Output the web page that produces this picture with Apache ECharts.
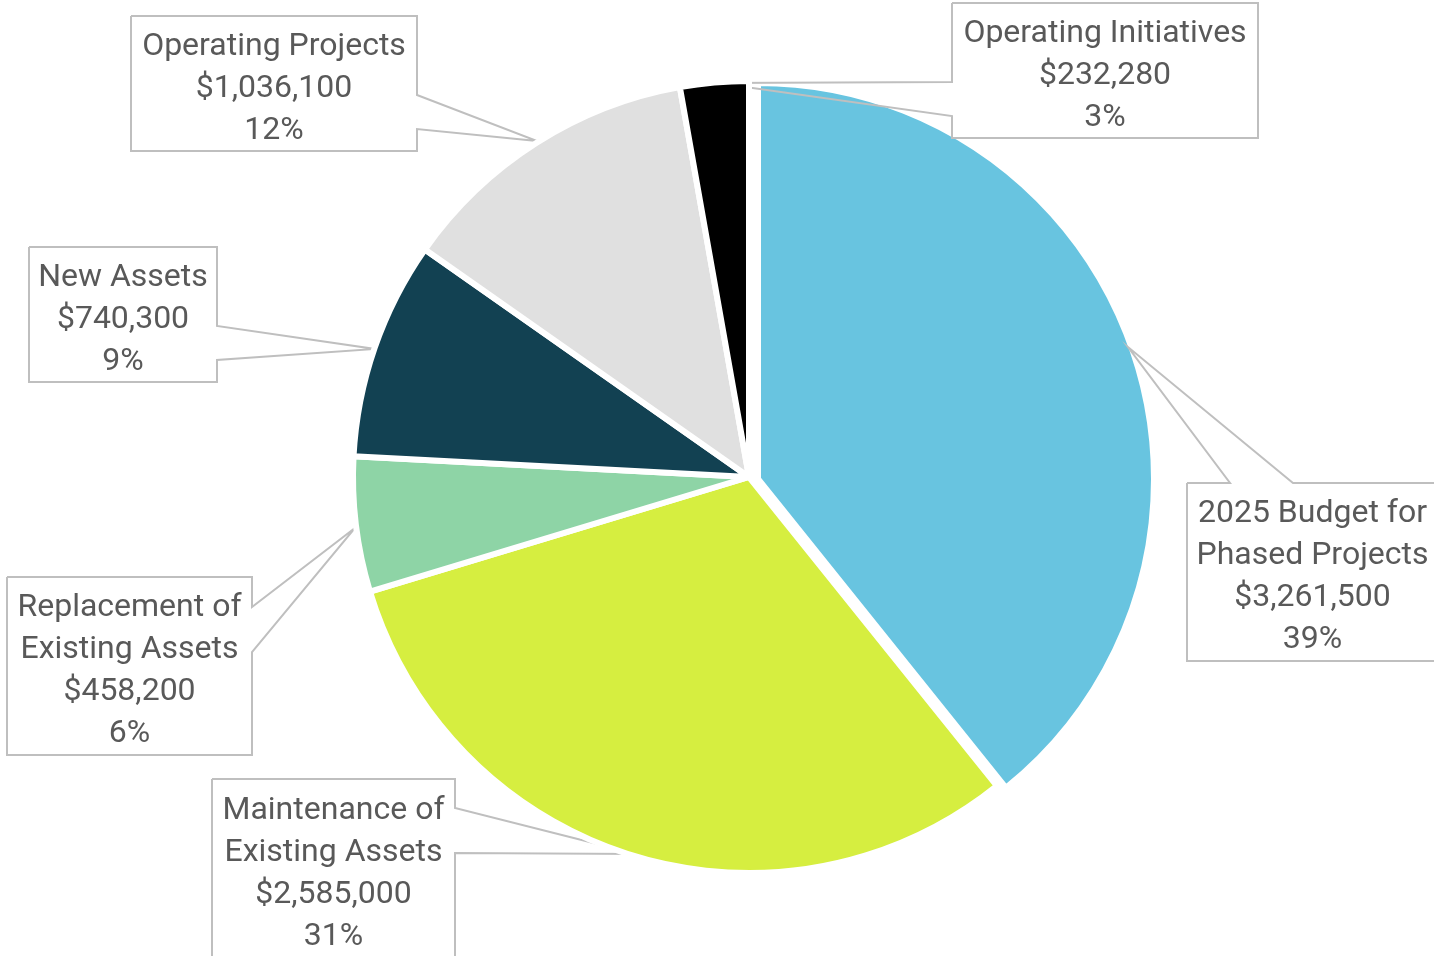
<!DOCTYPE html>
<html>
<head>
<meta charset="utf-8">
<script src="https://cdn.jsdelivr.net/npm/echarts@6/dist/echarts.min.js"></script>
<style>
  html, body { margin: 0; padding: 0; background: #fff; }
  #chart { width: 1434px; height: 956px; }
</style>
</head>
<body>
<div id="chart"></div>
<script>
// data, clockwise from 12 o'clock
var categories = ['2025 Budget for\nPhased Projects', 'Maintenance of\nExisting Assets', 'Replacement of\nExisting Assets', 'New Assets', 'Operating Projects', 'Operating Initiatives'];
var amounts = [3261500, 2585000, 458200, 740300, 1036100, 232280];
var colors = ['#68C4E0', '#D6EE40', '#8ED4A6', '#124152', '#E0E0E0', '#000000'];
var explodedIndex = 0;

// callout boxes: [left, top, right, bottom], which side the pointer leaves from,
// the two points on that side, and the tip on the pie
var callouts = [
  {box: [1187, 483, 1440, 661], side: 'top', a: 1230, b: 1293, tip: [1128, 347]},
  {box: [212, 779, 455, 959], side: 'right', a: 808, b: 853, tip: [637, 854]},
  {box: [7, 577, 252, 755], side: 'right', a: 607, b: 652, tip: [355, 528]},
  {box: [29, 247, 217, 382], side: 'right', a: 326, b: 360, tip: [375, 349]},
  {box: [131, 16, 417, 151], side: 'right', a: 95, b: 129, tip: [537, 141]},
  {box: [952, 3, 1258, 138], side: 'left', a: 82, b: 116, tip: [717, 83]}
];

function outline(c) {
  var x0 = c.box[0], y0 = c.box[1], x1 = c.box[2], y1 = c.box[3];
  if (c.side == 'top') {
    return [[x0, y0], [c.a, y0], c.tip, [c.b, y0], [x1, y0], [x1, y1], [x0, y1], [x0, y0]];
  }
  if (c.side == 'right') {
    return [[x0, y0], [x1, y0], [x1, c.a], c.tip, [x1, c.b], [x1, y1], [x0, y1], [x0, y0]];
  }
  return [[x0, y0], [x1, y0], [x1, y1], [x0, y1], [x0, c.b], c.tip, [x0, c.a], [x0, y0]];
}

var myChart = echarts.init(document.getElementById('chart'));

var hidden = {color: 'rgba(0,0,0,0)', borderColor: 'rgba(0,0,0,0)'};
var mainData = [];
var explodedData = [];
for (var i = 0; i < categories.length; i++) {
  mainData.push({
    name: categories[i],
    value: amounts[i],
    itemStyle: i == explodedIndex ? hidden : {color: colors[i]}
  });
  explodedData.push({
    name: categories[i],
    value: amounts[i],
    itemStyle: i == explodedIndex ? {color: colors[i]} : hidden
  });
}

var pieCenter = [749, 477];

var option = {
  animation: false,
  series: [{
    type: 'pie',
    center: pieCenter,
    radius: 396,
    startAngle: 90,
    clockwise: true,
    percentPrecision: 0,
    avoidLabelOverlap: false,
    itemStyle: {borderColor: '#fff', borderWidth: 6},
    emphasis: {disabled: true},
    label: {
      show: true,
      position: 'outside',
      formatter: function (p) {
        return p.name + '\n$' + p.value.toLocaleString('en-US') + '\n' + p.percent + '%';
      },
      fontFamily: 'Roboto',
      fontSize: 32,
      lineHeight: 42,
      color: '#595959'
    },
    labelLine: {
      show: true,
      smooth: false,
      lineStyle: {color: '#BFBFBF', width: 2}
    },
    labelLayout: function (params) {
      var c = callouts[params.dataIndex];
      return {
        x: (c.box[0] + c.box[2]) / 2 + (c.side == 'top' ? -1 : 0),
        y: (c.box[1] + c.box[3]) / 2 + 5,
        align: 'center',
        verticalAlign: 'middle',
        labelLinePoints: outline(c)
      };
    },
    data: mainData
  }, {
    // the exploded slice, pulled out from the pie
    type: 'pie',
    z: 1,
    center: [pieCenter[0] + 9, pieCenter[1] + 2],
    radius: 396,
    startAngle: 90,
    clockwise: true,
    silent: true,
    itemStyle: {borderColor: '#fff', borderWidth: 6},
    label: {show: false},
    labelLine: {show: false},
    data: explodedData
  }]
};

myChart.setOption(option);
</script>
</body>
</html>
